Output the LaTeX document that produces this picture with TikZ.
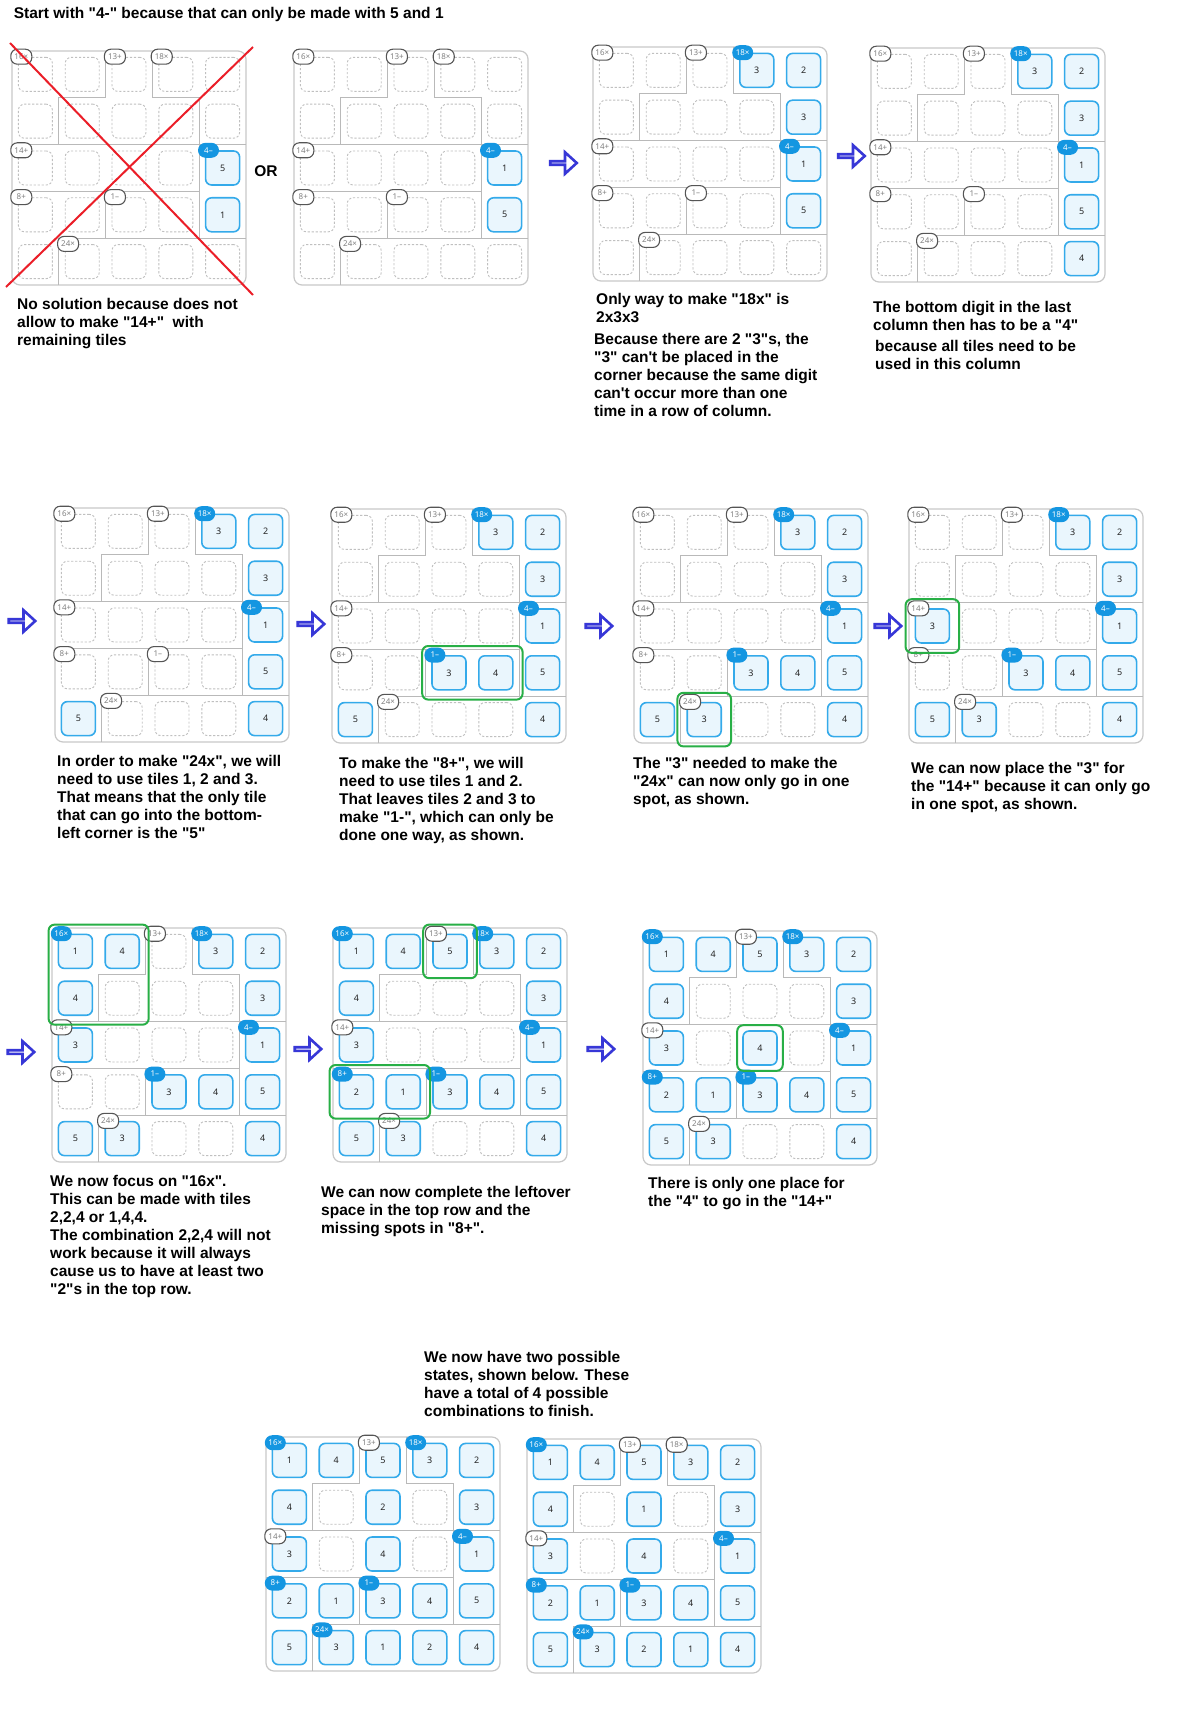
\documentclass[tikz,border=0pt]{standalone}
\usepackage{fontspec}
\setmainfont{Liberation Sans}[Ligatures=TeXOff]
\newfontfamily\gridfont{Noto Sans}
\usetikzlibrary{shapes.arrows,fit}

\definecolor{boardgray}{RGB}{200,200,200}
\definecolor{wallgray}{RGB}{185,185,185}
\definecolor{dashgray}{RGB}{192,192,192}
\definecolor{tileblue}{RGB}{52,170,234}
\definecolor{tilefill}{RGB}{234,246,253}
\definecolor{tagblue}{RGB}{20,150,225}
\definecolor{tagline}{RGB}{85,85,85}
\definecolor{hintgreen}{RGB}{40,175,70}
\definecolor{arrowblue}{RGB}{55,55,215}
\definecolor{crossred}{RGB}{235,30,40}

% one 5x5 board: #1 name, #2 top-left corner, #3 25 tile values (0 = empty), #4 8 tag flags
\newcommand\drawboard[4]{%
  \begin{scope}[shift={(#2)}]
    \draw[board] (0,0) rectangle (234,234);
    \draw[cage] (93.6,0) -- (93.6,46.8) -- (46.8,46.8) -- (46.8,93.6);
    \draw[cage] (140.4,0) -- (140.4,46.8) -- (187.2,46.8) -- (187.2,187.2);
    \draw[cage] (0,93.6) -- (234,93.6);
    \draw[cage] (0,140.4) -- (187.2,140.4);
    \draw[cage] (93.6,140.4) -- (93.6,187.2);
    \draw[cage] (46.8,187.2) -- (234,187.2);
    \draw[cage] (46.8,187.2) -- (46.8,234);
    \foreach \v [count=\k from 0] in {#3} {
      \pgfmathtruncatemacro\r{\k/5}
      \pgfmathtruncatemacro\c{\k-5*\r}
      \ifnum\v=0
        \node[empty tile] (#1-\r\c) at ({46.8*\c+23.4},{46.8*\r+23.4}) {};
      \else
        \node[full tile] (#1-\r\c) at ({46.8*\c+23.4},{46.8*\r+23.4}) {\v};
      \fi
    }
    \foreach \t/\r/\c [count=\j from 0] in {16×/0/0,13+/0/2,18×/0/3,14+/2/0,4–/2/4,8+/3/0,1–/3/2,24×/4/1} {
      \pgfmathtruncatemacro\f{{#4}[\j]}
      \ifnum\f=1
        \node[done tag] (#1-t\j) at ({46.8*\c+9.3},{46.8*\r+5.7}) {\t};
      \else
        \node[open tag] (#1-t\j) at ({46.8*\c+9.3},{46.8*\r+5.7}) {\t};
      \fi
    }
  \end{scope}}

\begin{document}
\begin{tikzpicture}[x=1pt,y=-1pt,
    board/.style={draw=boardgray,line width=1.2pt,rounded corners=8pt},
    cage/.style={draw=wallgray,line width=1pt},
    empty tile/.style={draw=dashgray,dash pattern=on 2.2pt off 1.8pt,line width=0.9pt,
      rounded corners=6pt,minimum size=34pt,inner sep=0pt},
    full tile/.style={draw=tileblue,fill=tilefill,line width=1.6pt,rounded corners=6pt,
      minimum size=34pt,inner sep=0pt,text=black!85,font=\gridfont\fontsize{9}{9}\selectfont},
    open tag/.style={draw=tagline,fill=white,line width=1.1pt,rounded corners=6.5pt,
      minimum width=21pt,minimum height=15pt,inner sep=0pt,text=black!50,
      font=\gridfont\fontsize{8}{8}\selectfont},
    done tag/.style={fill=tagblue,rounded corners=7.5pt,minimum width=21pt,minimum height=15pt,
      inner sep=0pt,text=white,font=\gridfont\fontsize{8}{8}\selectfont},
    hint/.style={draw=hintgreen,line width=2pt,rounded corners=6pt,inner sep=9pt},
    block arrow/.style={single arrow,draw=arrowblue,fill=white,line width=2.6pt,
      minimum height=26.5pt,minimum width=21.5pt,single arrow head extend=6.5pt,
      single arrow tip angle=85,inner sep=0pt},
    caption/.style={anchor=north west,align=left,inner sep=0pt,
      font=\bfseries\fontsize{15.5}{18}\selectfont},
    cross/.style={draw=crossred,line width=2pt}]

  \useasboundingbox[fill=white] (0,0) rectangle (1200,1731);

  \node[caption] (head) at (13.6,7.3) {Start with "4-" because that can only be made with 5 and 1};

  % first row
  \drawboard{b1}{12,51}{0,0,0,0,0, 0,0,0,0,0, 0,0,0,0,5, 0,0,0,0,1, 0,0,0,0,0}{0,0,0,0,1,0,0,0}
  \draw[cross] (10,43) -- (253,295);
  \draw[cross] (253,47) -- (6,287);
  \node[font=\bfseries\fontsize{15.5}{18}\selectfont] (or) at (266,171) {OR};
  \drawboard{b2}{294,51}{0,0,0,0,0, 0,0,0,0,0, 0,0,0,0,1, 0,0,0,0,5, 0,0,0,0,0}{0,0,0,0,1,0,0,0}
  \drawboard{b3}{593,47}{0,0,0,3,2, 0,0,0,0,3, 0,0,0,0,1, 0,0,0,0,5, 0,0,0,0,0}{0,0,1,0,1,0,0,0}
  \drawboard{b4}{871,48}{0,0,0,3,2, 0,0,0,0,3, 0,0,0,0,1, 0,0,0,0,5, 0,0,0,0,4}{0,0,1,0,1,0,0,0}

  \node[block arrow] (a1) at (562.5,163) {};
  \node[block arrow] (a2) at (850.5,156) {};

  \node[caption] (c1) at (17,297.7) {No solution because does not\\allow to make "14+"\ \ with\\remaining tiles};
  \node[caption] (c3) at (596,293.4) {Only way to make "18x" is\\2x3x3};
  \node[caption] (c3b) at (594,333.4) {Because there are 2 "3"s, the\\"3" can't be placed in the\\corner because the same digit\\can't occur more than one\\time in a row of column.};
  \node[caption] (c4) at (873,301.4) {The bottom digit in the last\\column then has to be a "4"};
  \node[caption] (c4b) at (875,340.4) {because all tiles need to be\\used in this column};

  % second row
  \drawboard{b5}{55,508}{0,0,0,3,2, 0,0,0,0,3, 0,0,0,0,1, 0,0,0,0,5, 5,0,0,0,4}{0,0,1,0,1,0,0,0}
  \drawboard{b6}{332,509}{0,0,0,3,2, 0,0,0,0,3, 0,0,0,0,1, 0,0,3,4,5, 5,0,0,0,4}{0,0,1,0,1,0,1,0}
  \drawboard{b7}{634,509}{0,0,0,3,2, 0,0,0,0,3, 0,0,0,0,1, 0,0,3,4,5, 5,3,0,0,4}{0,0,1,0,1,0,1,0}
  \drawboard{b8}{909,509}{0,0,0,3,2, 0,0,0,0,3, 3,0,0,0,1, 0,0,3,4,5, 5,3,0,0,4}{0,0,1,0,1,0,1,0}
  \node[hint,fit=(b6-32)(b6-33)] (h6) {};
  \node[hint,fit=(b7-41)] (h7) {};
  \node[hint,fit=(b8-20)] (h8) {};

  \node[block arrow] (a3) at (21,621) {};
  \node[block arrow] (a4) at (310,624) {};
  \node[block arrow] (a5) at (598,626) {};
  \node[block arrow] (a6) at (887,626) {};

  \node[caption] (c5) at (57,755.4) {In order to make "24x", we will\\need to use tiles 1, 2 and 3.\\That means that the only tile\\that can go into the bottom-\\left corner is the "5"};
  \node[caption] (c6) at (339,757.4) {To make the "8+", we will\\need to use tiles 1 and 2.\\That leaves tiles 2 and 3 to\\make "1-", which can only be\\done one way, as shown.};
  \node[caption] (c7) at (633,757.4) {The "3" needed to make the\\"24x" can now only go in one\\spot, as shown.};
  \node[caption] (c8) at (911,762.4) {We can now place the "3" for\\the "14+" because it can only go\\in one spot, as shown.};

  % third row
  \drawboard{b9}{52,928}{1,4,0,3,2, 4,0,0,0,3, 3,0,0,0,1, 0,0,3,4,5, 5,3,0,0,4}{1,0,1,0,1,0,1,0}
  \drawboard{b10}{333,928}{1,4,5,3,2, 4,0,0,0,3, 3,0,0,0,1, 2,1,3,4,5, 5,3,0,0,4}{1,0,1,0,1,1,1,0}
  \drawboard{b11}{643,931}{1,4,5,3,2, 4,0,0,0,3, 3,0,4,0,1, 2,1,3,4,5, 5,3,0,0,4}{1,0,1,0,1,1,1,0}
  \node[hint,fit=(b9-00)(b9-11)] (h9) {};
  \node[hint,fit=(b10-02)] (h10a) {};
  \node[hint,fit=(b10-30)(b10-31)] (h10b) {};
  \node[hint,fit=(b11-22),inner sep=5pt] (h11) {};

  \node[block arrow] (a7) at (20,1052) {};
  \node[block arrow] (a8) at (307,1049) {};
  \node[block arrow] (a9) at (600,1049) {};

  \node[caption] (c9) at (50,1175.4) {We now focus on "16x".\\This can be made with tiles\\2,2,4 or 1,4,4.\\The combination 2,2,4 will not\\work because it will always\\cause us to have at least two\\"2"s in the top row.};
  \node[caption] (c10) at (321,1186.4) {We can now complete the leftover\\space in the top row and the\\missing spots in "8+".};
  \node[caption] (c11) at (648,1177.4) {There is only one place for\\the "4" to go in the "14+"};

  % last row
  \node[caption] (c12) at (424,1351.4) {We now have two possible\\states, shown below. These\\have a total of 4 possible\\combinations to finish.};
  \drawboard{b12}{266,1437}{1,4,5,3,2, 4,0,2,0,3, 3,0,4,0,1, 2,1,3,4,5, 5,3,1,2,4}{1,0,1,0,1,1,1,1}
  \drawboard{b13}{527,1439}{1,4,5,3,2, 4,0,1,0,3, 3,0,4,0,1, 2,1,3,4,5, 5,3,2,1,4}{1,0,0,0,1,1,1,1}
\end{tikzpicture}
\end{document}
